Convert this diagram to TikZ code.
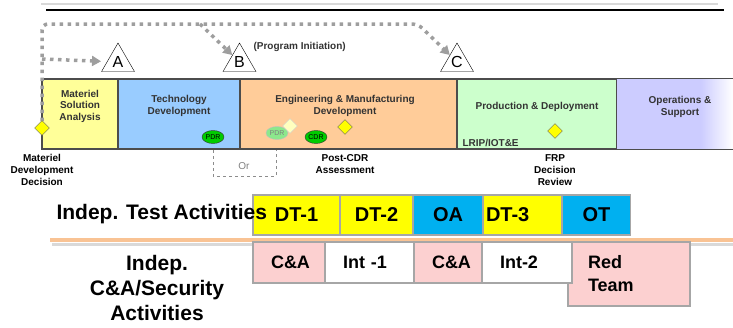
\documentclass[tikz,border=0pt]{standalone}
\usepackage{fontspec}
\setmainfont{Liberation Sans}
\usetikzlibrary{shapes.geometric, arrows.meta, positioning}

\definecolor{msacol}{HTML}{FFFF99}
\definecolor{tdcol}{HTML}{99CCFF}
\definecolor{emdcol}{HTML}{FFCC99}
\definecolor{pdcol}{HTML}{CCFFCC}
\definecolor{oscol}{HTML}{CCCCFF}
\definecolor{dtcol}{HTML}{FFFF00}
\definecolor{otcol}{HTML}{00B0F0}
\definecolor{cacol}{HTML}{FCD0D0}
\definecolor{rimgray}{HTML}{A6A6A6}
\definecolor{pathgray}{HTML}{9E9E9E}
\definecolor{sepcol}{HTML}{F9C394}
\definecolor{revgreen}{HTML}{00CC00}

\pgfdeclarehorizontalshading{osfade}{100bp}{color(0bp)=(oscol); color(61bp)=(oscol); color(75bp)=(white); color(100bp)=(white)}

\tikzstyle{phase} = [rectangle, draw=black!70, line width=1.2pt, minimum height=70pt, inner sep=0pt]
\tikzstyle{phasetext} = [align=center, text=black!80, font=\bfseries\fontsize{10}{11.5}\selectfont]
\tikzstyle{milestone} = [regular polygon, regular polygon sides=3, draw, fill=white, minimum size=38pt, inner sep=0pt, font=\fontsize{16}{16}\selectfont]
\tikzstyle{decision} = [diamond, draw=black!60, fill=dtcol, minimum size=15pt, inner sep=0pt]
\tikzstyle{review} = [ellipse, draw=black!80, fill=revgreen, minimum width=22pt, minimum height=13pt, inner sep=0pt, font=\fontsize{7}{7}\selectfont]
\tikzstyle{steplabel} = [align=center, font=\bfseries\fontsize{10}{12}\selectfont]
\tikzstyle{testbox} = [rectangle, draw=rimgray, line width=1.8pt, minimum height=40pt, inner sep=0pt, font=\bfseries\fontsize{20}{20}\selectfont]
\tikzstyle{secbox} = [rectangle, draw=rimgray, line width=1.8pt, minimum height=41pt, inner sep=0pt, align=left, font=\bfseries\fontsize{18}{23}\selectfont]
\tikzstyle{rowtitle} = [align=center, font=\bfseries\fontsize{21}{25}\selectfont]
\tikzstyle{initpath} = [-{Triangle[length=9pt,width=10pt]}, pathgray, line width=3.5pt, dash pattern=on 3.5pt off 4.5pt]

\begin{document}
\begin{tikzpicture}[x=1pt, y=-1pt]
  \useasboundingbox (0,0) rectangle (733,327);

  % top rule
  \draw[black!15, line width=1.5pt] (41,4) -- (718,4);
  \draw[black, line width=2.2pt] (46,10) -- (724,10);

  % phases
  \node[phase, fill=msacol, minimum width=76pt] (msa) at (80,114) {};
  \node[phase, fill=tdcol, minimum width=122pt] (td) at (179,114) {};
  \node[phase, fill=emdcol, minimum width=217pt] (emd) at (348.5,114) {};
  \node[phase, fill=pdcol, minimum width=160pt] (pd) at (537,114) {};
  \node[phase, draw=none, shading=osfade, minimum width=116pt] (os) at (675,114) {};
  \draw[black!70, line width=1.2pt] (os.north west) -- (os.north east) (os.south west) -- (os.south east);

  \node[phasetext] (msatxt) at (80,106) {Materiel\\Solution\\Analysis};
  \node[phasetext] (tdtxt) at (179,106) {Technology\\Development};
  \node[phasetext] (emdtxt) at (345,106) {Engineering \& Manufacturing\\Development};
  \node[phasetext] (pdtxt) at (537,107) {Production \& Deployment};
  \node[phasetext] (ostxt) at (680,107) {Operations \&\\Support};
  \node[phasetext, anchor=west] (lrip) at (459,143) {LRIP/IOT\&E};

  % milestones
  \node[milestone] (msA) at (118,62) {A};
  \node[milestone] (msB) at (239.5,62) {B};
  \node[milestone] (msC) at (457,62) {C};
  \node[phasetext, anchor=west] (pinit) at (250,47) {(Program Initiation)};

  % dotted paths
  \coordinate (topleft) at (42,24);
  \coordinate (topright) at (418,24);
  \coordinate (bsplit) at (200,24);
  \coordinate (asplit) at (42,59);
  \draw[initpath, rounded corners=6pt] (42,121) -- (topleft) -- (topright) -- (msC);
  \draw[initpath] (bsplit) -- (msB);
  \draw[initpath, shorten >=6pt] (asplit) -- (msA);

  % reviews and decisions
  \node[review] (pdr) at (213,137) {PDR};
  \node[review, fill=revgreen!45, draw=black!25, text=black!50] (pdralt) at (277,133) {PDR};
  \node[review] (cdr) at (316,137) {CDR};
  \node[decision] (mdd) at (42,128) {};
  \node[decision, draw=black!20, fill=dtcol!25] (pdrdec) at (290,126) {};
  \node[decision] (pcdr) at (345,127) {};
  \node[decision] (frp) at (555,131) {};

  % or box
  \draw[black!45, line width=1pt, dashed] (213,150) -- (213,176) -- (276,176) -- (276,150);
  \node[text=black!50, font=\fontsize{10}{10}\selectfont] (orlbl) at (244,166) {Or};

  % labels
  \node[steplabel] (mddlbl) at (42,170) {Materiel\\Development\\Decision};
  \node[steplabel] (pcdrlbl) at (345,164) {Post-CDR\\Assessment};
  \node[steplabel] (frplbl) at (555,170) {FRP\\Decision\\Review};

  % test activities
  \node[testbox, fill=dtcol, minimum width=87pt] (dt1) at (296.5,215) {DT-1};
  \node[testbox, fill=dtcol, minimum width=73pt] (dt2) at (376.5,215) {DT-2};
  \node[testbox, fill=otcol, minimum width=70pt] (oa) at (448,215) {OA};
  \node[testbox, fill=dtcol, minimum width=79pt, text width=73pt, align=left] (dt3) at (522.5,215) {DT-3};
  \node[testbox, fill=otcol, minimum width=68pt] (ot) at (596.5,215) {OT};
  \node[rowtitle, anchor=west] (testtitle) at (53,214) {Indep. Test Activities};

  % separator
  \draw[black!15, line width=3pt] (52,244) -- (733,244);
  \draw[sepcol, line width=4pt] (50,240) -- (733,240);

  % security activities
  \node[secbox, fill=cacol, minimum width=72pt, text width=36pt] (ca1) at (289,262.5) {C\&A};
  \node[secbox, fill=white, minimum width=89pt, text width=53pt] (int1) at (369.5,262.5) {Int -1};
  \node[secbox, fill=cacol, minimum width=68pt, text width=32pt] (ca2) at (448,262.5) {C\&A};
  \node[secbox, fill=cacol, minimum width=122pt, minimum height=64pt, text width=82pt] (red) at (629,274) {Red\\Team};
  \node[secbox, fill=white, minimum width=90pt, text width=54pt] (int2) at (527,262.5) {Int-2};
  \node[rowtitle] (sectitle) at (157,288) {Indep.\\C\&A/Security\\Activities};
\end{tikzpicture}
\end{document}
